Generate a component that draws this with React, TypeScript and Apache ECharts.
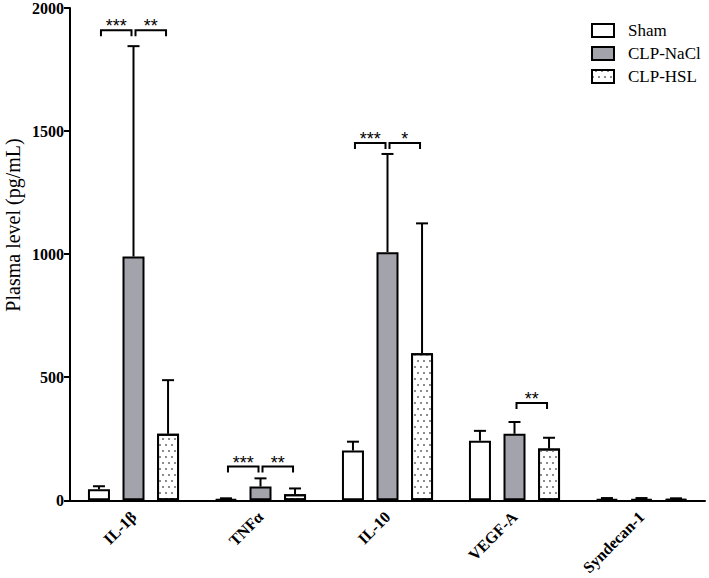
import React, { useEffect, useRef } from "react";
import * as echarts from "echarts";

const categories = ["IL-1β", "TNFα", "IL-10", "VEGF-A", "Syndecan-1"];
const groups = ["Sham", "CLP-NaCl", "CLP-HSL"];
const shamMean = [45, 5, 202, 242, 5];
const shamErr = [57, 8, 238, 282, 9];
const naclMean = [990, 56, 1008, 270, 5];
const naclErr = [1845, 89, 1407, 318, 9];
const hslMean = [270, 24, 597, 210, 5];
const hslErr = [488, 48, 1125, 254, 8];
// [category, from group, to group, bracket height, label]
const brackets: [number, number, number, number, string][] = [
  [0, 0, 1, 1910, "***"],
  [0, 1, 2, 1910, "**"],
  [1, 0, 1, 137, "***"],
  [1, 1, 2, 137, "**"],
  [2, 0, 1, 1452, "***"],
  [2, 1, 2, 1452, "*"],
  [3, 1, 2, 395, "**"],
];

const BAR_W = 22;
const GAP = 0.57;
const SERIF = "'Liberation Serif', 'Times New Roman', serif";

export default function App() {
  const ref = useRef<HTMLDivElement>(null);
  useEffect(() => {
    const chart = echarts.init(ref.current!, null, { renderer: "svg" });
    const means = [shamMean, naclMean, hslMean];
    const errs = [shamErr, naclErr, hslErr];
    const fills = ["#ffffff", "#a3a3ab", "#ffffff"];
    const step = BAR_W * (1 + GAP);
    const barSeries = groups.map((g, i) => ({
      type: "bar",
      name: g,
      data: means[i],
      barWidth: BAR_W,
      barGap: GAP * 100 + "%",
      itemStyle: {
        color: fills[i],
        borderColor: "#000",
        borderWidth: 2,
        decal:
          i === 2
            ? {
                symbol: "rect",
                symbolSize: 1,
                color: "#8c8c8c",
                dashArrayX: [[2, 4], [0, 3, 2, 1]],
                dashArrayY: [2, 4],
                rotation: 0,
              }
            : undefined,
      },
      emphasis: { disabled: true },
      z: 2,
    }));
    const errSeries = groups.map((g, i) => ({
      type: "custom",
      name: "err" + i,
      data: categories.map((_, c) => [c, means[i][c], errs[i][c]]),
      z: 3,
      renderItem: (params: any, api: any) => {
        const c = api.value(0);
        const top = api.coord([c, api.value(1)]);
        const hi = api.coord([c, api.value(2)]);
        const x = top[0] + (i - 1) * step;
        return {
          type: "group",
          children: [
            { type: "line", shape: { x1: x, y1: top[1], x2: x, y2: hi[1] }, style: { stroke: "#000", lineWidth: 2 } },
            { type: "line", shape: { x1: x - 6, y1: hi[1], x2: x + 6, y2: hi[1] }, style: { stroke: "#000", lineWidth: 2 } },
          ],
        };
      },
    }));
    const bracketSeries = {
      type: "custom",
      name: "brackets",
      data: brackets.map((b) => [b[0], b[1], b[2], b[3]]),
      z: 4,
      renderItem: (params: any, api: any) => {
        const c = api.value(0);
        const p = api.coord([c, api.value(3)]);
        const x1 = p[0] + (api.value(1) - 1) * step + 2;
        const x2 = p[0] + (api.value(2) - 1) * step - 2;
        const y = p[1];
        return {
          type: "group",
          children: [
            {
              type: "polyline",
              shape: { points: [[x1, y + 6], [x1, y], [x2, y], [x2, y + 6]] },
              style: { stroke: "#000", lineWidth: 2, fill: "none" },
            },
            {
              type: "text",
              x: (x1 + x2) / 2,
              y: y - 4,
              style: {
                text: brackets[params.dataIndex][4],
                fill: "#000",
                font: "18px 'Liberation Sans', Arial, sans-serif",
                align: "center",
                verticalAlign: "middle",
              },
            },
          ],
        };
      },
    };
    chart.setOption({
      animation: false,
      grid: { left: 70, right: 4, top: 7, bottom: 76 },
      legend: {
        data: groups,
        orient: "vertical",
        left: 586,
        top: 17,
        itemWidth: 22,
        itemHeight: 13,
        itemGap: 6,
        icon: "rect",
        textStyle: { fontFamily: SERIF, fontSize: 17, color: "#000", padding: [0, 0, 0, 9] },
        selectedMode: false,
      },
      graphic: [
        {
          type: "text",
          x: 3,
          y: 225,
          rotation: Math.PI / 2,
          style: {
            text: "Plasma level (pg/mL)",
            font: "20px " + SERIF,
            fill: "#000",
            align: "center",
            verticalAlign: "top",
          },
        },
      ],
      xAxis: {
        type: "category",
        data: categories,
        axisLine: { lineStyle: { color: "#000", width: 2 } },
        axisTick: { alignWithLabel: true, length: 5, lineStyle: { color: "#000", width: 2 } },
        axisLabel: {
          rotate: 45,
          color: "#000",
          fontWeight: "bold",
          fontSize: 16,
          fontFamily: SERIF,
          margin: 14,
        },
      },
      yAxis: {
        type: "value",
        min: 0,
        max: 2000,
        interval: 500,
        splitLine: { show: false },
        axisLine: { show: true, lineStyle: { color: "#000", width: 2 } },
        axisTick: { show: true, length: 6, lineStyle: { color: "#000", width: 2 } },
        axisLabel: {
          color: "#000",
          fontWeight: "bold",
          fontSize: 16,
          fontFamily: SERIF,
          margin: 6,
          formatter: (v: number) => String(v),
        },
      },
      series: [...barSeries, ...errSeries, bracketSeries],
    });
    return () => chart.dispose();
  }, []);
  return <div ref={ref} style={{ position: "absolute", left: 0, top: 0, width: 709, height: 578 }} />;
}
